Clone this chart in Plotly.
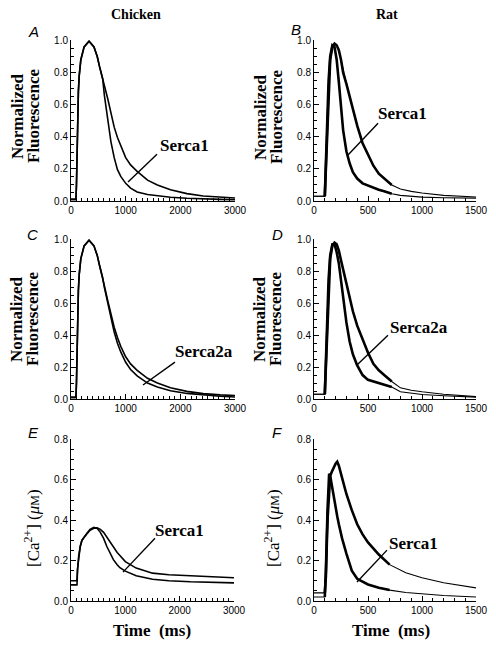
import plotly.graph_objects as go

# The page body has an 8 px margin: the figure is sized to fill the rest of the window.
OFF = 8
W, H = 496 - OFF, 647 - OFF

# ---------------- data ----------------
# Panel A: chicken, Serca1 (normalized fluorescence)
tA = [0, 90, 100, 110, 120, 135, 150, 180, 240, 330, 420, 480, 520, 580, 610, 670, 730, 790, 850, 910,
      1000, 1090, 1210, 1400, 1580, 1820, 2120, 2420, 2730, 3000]
A_fast = [0.01, 0.01, 0.1, 0.35, 0.5, 0.68, 0.78, 0.88, 0.96, 0.995, 0.96, 0.9, 0.84, 0.76, 0.66, 0.52, 0.37, 0.27, 0.195, 0.153,
          0.11, 0.08, 0.056, 0.04, 0.033, 0.023, 0.017, 0.012, 0.01, 0.008]
A_slow = [0.01, 0.01, 0.1, 0.35, 0.5, 0.68, 0.78, 0.88, 0.96, 0.995, 0.96, 0.9, 0.84, 0.77, 0.72, 0.64, 0.55, 0.46, 0.395, 0.34,
          0.27, 0.225, 0.185, 0.13, 0.1, 0.07, 0.046, 0.031, 0.023, 0.019]

# Panel C: chicken, Serca2a
tC = tA
C_fast = [0.01, 0.01, 0.1, 0.35, 0.5, 0.68, 0.78, 0.88, 0.96, 0.995, 0.96, 0.9, 0.84, 0.76, 0.7, 0.6, 0.5, 0.42, 0.35, 0.295,
          0.23, 0.185, 0.145, 0.1, 0.075, 0.052, 0.035, 0.024, 0.017, 0.013]
C_slow = [0.01, 0.01, 0.1, 0.35, 0.5, 0.68, 0.78, 0.88, 0.96, 0.995, 0.96, 0.9, 0.84, 0.76, 0.71, 0.62, 0.53, 0.45, 0.385, 0.33,
          0.265, 0.22, 0.18, 0.13, 0.1, 0.07, 0.048, 0.034, 0.026, 0.022]

# Panel B: rat, Serca1
tB = [0, 50, 100, 110, 120, 135, 150, 170, 190, 210, 230, 250, 270, 300, 330, 360, 400, 450, 500, 550,
      600, 650, 700, 720, 800, 900, 1000, 1200, 1500]
B_fast = [0.03, 0.03, 0.03, 0.25, 0.5, 0.75, 0.9, 0.97, 0.96, 0.88, 0.74, 0.6, 0.44, 0.31, 0.235, 0.18, 0.14, 0.11, 0.095, 0.085,
          0.07, 0.06, 0.05, 0.045, 0.035, 0.028, 0.024, 0.02, 0.018]
B_slow = [0.03, 0.03, 0.03, 0.2, 0.45, 0.72, 0.88, 0.96, 0.98, 0.97, 0.94, 0.88, 0.8, 0.73, 0.65, 0.57, 0.47, 0.36, 0.29, 0.22,
          0.17, 0.14, 0.11, 0.1, 0.075, 0.06, 0.05, 0.035, 0.025]

# Panel D: rat, Serca2a
tD = tB
D_fast = [0.03, 0.03, 0.03, 0.25, 0.5, 0.75, 0.9, 0.97, 0.97, 0.92, 0.85, 0.74, 0.63, 0.48, 0.36, 0.28, 0.21, 0.15, 0.12, 0.11,
          0.1, 0.09, 0.08, 0.075, 0.045, 0.035, 0.028, 0.02, 0.012]
D_slow = [0.03, 0.03, 0.03, 0.2, 0.45, 0.72, 0.88, 0.96, 0.98, 0.97, 0.93, 0.87, 0.81, 0.71, 0.62, 0.55, 0.46, 0.37, 0.29, 0.22,
          0.18, 0.15, 0.12, 0.11, 0.07, 0.055, 0.045, 0.03, 0.015]

# Panel E: chicken, [Ca2+] (uM)
tE = [0, 110, 120, 140, 170, 200, 250, 300, 350, 420, 480, 540, 600, 660, 720, 780, 850, 900, 1000, 1200,
      1500, 1800, 2200, 2600, 3000]
E_fast = [0.08, 0.08, 0.15, 0.22, 0.27, 0.3, 0.32, 0.34, 0.355, 0.365, 0.36, 0.34, 0.31, 0.27, 0.235, 0.205, 0.18, 0.165, 0.148, 0.125,
          0.108, 0.1, 0.095, 0.092, 0.09]
E_slow = [0.1, 0.1, 0.16, 0.22, 0.27, 0.3, 0.32, 0.335, 0.35, 0.36, 0.362, 0.355, 0.34, 0.315, 0.29, 0.265, 0.24, 0.225, 0.195, 0.163,
          0.138, 0.13, 0.125, 0.12, 0.115]

# Panel F: rat, [Ca2+] (uM)
tF = [0, 100, 110, 125, 140, 150, 165, 180, 200, 215, 230, 260, 300, 350, 400, 450, 500, 600, 700, 850,
      1000, 1200, 1500]
F_fast = [0.02, 0.02, 0.15, 0.45, 0.63, 0.62, 0.57, 0.52, 0.46, 0.42, 0.38, 0.31, 0.235, 0.15, 0.11, 0.095, 0.082, 0.066, 0.054, 0.042,
          0.034, 0.027, 0.02]
F_slow = [0.04, 0.04, 0.12, 0.4, 0.58, 0.62, 0.64, 0.66, 0.68, 0.69, 0.67, 0.61, 0.53, 0.45, 0.38, 0.33, 0.29, 0.23, 0.18, 0.14,
          0.115, 0.09, 0.065]

column_titles = ["Chicken", "Rat"]
panel_letters = ["A", "B", "C", "D", "E", "F"]
iso_labels = ["Serca1", "Serca1", "Serca2a", "Serca2a", "Serca1", "Serca1"]
fluor_ticks = [0.0, 0.2, 0.4, 0.6, 0.8, 1.0]
ca_ticks = [0.0, 0.2, 0.4, 0.6, 0.8]
chick_xticks = [0, 1000, 2000, 3000]
rat_xticks = [0, 500, 1000, 1500]

# ---------------- layout helpers (window pixels -> paper) ----------------
def px(x):
    return (x - OFF) / W

def py(y):
    return 1 - (y - OFF) / H

SERIF = "Liberation Serif, Times New Roman, serif"
SANS = "Liberation Sans, Arial, Helvetica, sans-serif"

panels = [
    dict(t=tA, s=[A_fast, A_slow], box=(71, 235, 40, 201), xr=3000, xt=chick_xticks, yr=1.0, yt=fluor_ticks, rat=False,
         lab=(2067, 0.348), line=(1573, 0.292, 1043, 0.118), letter=(33, 32)),
    dict(t=tB, s=[B_fast, B_slow], box=(314, 476, 40, 201), xr=1500, xt=rat_xticks, yr=1.0, yt=fluor_ticks, rat=True,
         lab=(824, 0.547), line=(593, 0.484, 315, 0.286), letter=(296, 29)),
    dict(t=tC, s=[C_fast, C_slow], box=(71, 235, 239, 399), xr=3000, xt=chick_xticks, yr=1.0, yt=fluor_ticks, rat=False,
         lab=(2433, 0.30), line=(1902, 0.231, 1317, 0.0875), letter=(32, 234)),
    dict(t=tD, s=[D_fast, D_slow], box=(314, 476, 239, 399), xr=1500, xt=rat_xticks, yr=1.0, yt=fluor_ticks, rat=True,
         lab=(972, 0.45), line=(685, 0.40, 398, 0.2125), letter=(277, 234)),
    dict(t=tE, s=[E_fast, E_slow], box=(71, 234, 439, 601), xr=3000, xt=chick_xticks, yr=0.8, yt=ca_ticks, rat=False,
         lab=(2006, 0.35), line=(1546, 0.311, 957, 0.143), letter=(33, 432)),
    dict(t=tF, s=[F_fast, F_slow], box=(314, 476, 439, 601), xr=1500, xt=rat_xticks, yr=0.8, yt=ca_ticks, rat=True,
         lab=(917, 0.286), line=(676, 0.252, 398, 0.094), letter=(277, 432)),
]

fig = go.Figure()
annotations = []
shapes = []
layout_axes = {}

def note(x, y, text, size, family, angle=0, xref="paper", yref="paper"):
    return dict(x=x, y=y, xref=xref, yref=yref, text=text, showarrow=False, textangle=angle,
                xanchor="center", yanchor="middle", borderpad=0,
                font=dict(family=family, size=size, color="black"))

for i, p in enumerate(panels):
    suf = "" if i == 0 else str(i + 1)
    xa, ya = "x" + suf, "y" + suf
    t = p["t"]
    for s in p["s"]:
        fig.add_trace(go.Scatter(x=t, y=s, mode="lines", line=dict(color="black", width=1.1 if p["rat"] else 1.6),
                                 xaxis=xa, yaxis=ya, hoverinfo="skip"))
        if p["rat"]:
            tt = [tv for tv in t if 100 <= tv <= 720]
            ss = [sv for tv, sv in zip(t, s) if 100 <= tv <= 720]
            fig.add_trace(go.Scatter(x=tt, y=ss, mode="lines", line=dict(color="black", width=2.6),
                                     xaxis=xa, yaxis=ya, hoverinfo="skip"))
    x0, x1, y0, y1 = p["box"]
    common = dict(showline=True, linecolor="black", linewidth=1, showgrid=False, zeroline=False,
                  ticks="inside", ticklen=5, tickwidth=1, tickcolor="black", automargin=False,
                  tickfont=dict(family=SANS, size=10, color="black"))
    layout_axes["xaxis" + suf] = dict(common, domain=[px(x0), px(x1)], range=[0, p["xr"]],
                                      tickvals=p["xt"], ticktext=[str(v) for v in p["xt"]],
                                      minor=dict(ticks="inside", dtick=100, tick0=0, ticklen=3, tickwidth=1, tickcolor="black"),
                                      anchor=ya, fixedrange=True)
    layout_axes["yaxis" + suf] = dict(common, domain=[py(y1), py(y0)], range=[0, p["yr"] * 1.003],
                                      tickvals=p["yt"], ticktext=["%.1f" % v for v in p["yt"]],
                                      minor=dict(ticks="inside", dtick=0.05, tick0=0, ticklen=3, tickwidth=1, tickcolor="black"),
                                      anchor=xa, fixedrange=True)
    # isoform label and pointer line
    annotations.append(note(p["lab"][0], p["lab"][1], "<b>%s</b>" % iso_labels[i], 17, SERIF, xref=xa, yref=ya))
    lx0, ly0, lx1, ly1 = p["line"]
    shapes.append(dict(type="line", xref=xa, yref=ya, x0=lx0, y0=ly0, x1=lx1, y1=ly1,
                       line=dict(color="black", width=1.4)))
    # panel letter
    annotations.append(note(px(p["letter"][0]), py(p["letter"][1]), "<i>%s</i>" % panel_letters[i], 15, SANS))

# column titles
for txt, cx in zip(column_titles, [136, 387]):
    annotations.append(note(px(cx), py(14), "<b>%s</b>" % txt, 14, SERIF))

# y-axis labels (fluorescence)
for (x1c, x2c, yc) in [(17, 33, 116), (260, 276, 117), (17, 33, 319), (260, 276, 319)]:
    annotations.append(note(px(x1c), py(yc), "<b>Normalized</b>", 17, SERIF, angle=-90))
    annotations.append(note(px(x2c), py(yc), "<b>Fluorescence</b>", 17, SERIF, angle=-90))

# y-axis labels (calcium)
for xc in [32, 272]:
    annotations.append(note(px(xc), py(528), "[Ca<sup>2+</sup>] (<i>μ</i><span style='font-size:12px'>M</span>)",
                            17, SERIF, angle=-90))

# x-axis labels
for xc in [152, 391]:
    annotations.append(note(px(xc), py(630), "<b>Time  (ms)</b>", 17, SERIF))

fig.update_layout(width=W, height=H, margin=dict(l=0, r=0, t=0, b=0, pad=0), autosize=False,
                  paper_bgcolor="white", plot_bgcolor="white", showlegend=False,
                  annotations=annotations, shapes=shapes, **layout_axes)

fig.write_html("out.html", config=dict(displayModeBar=False))
